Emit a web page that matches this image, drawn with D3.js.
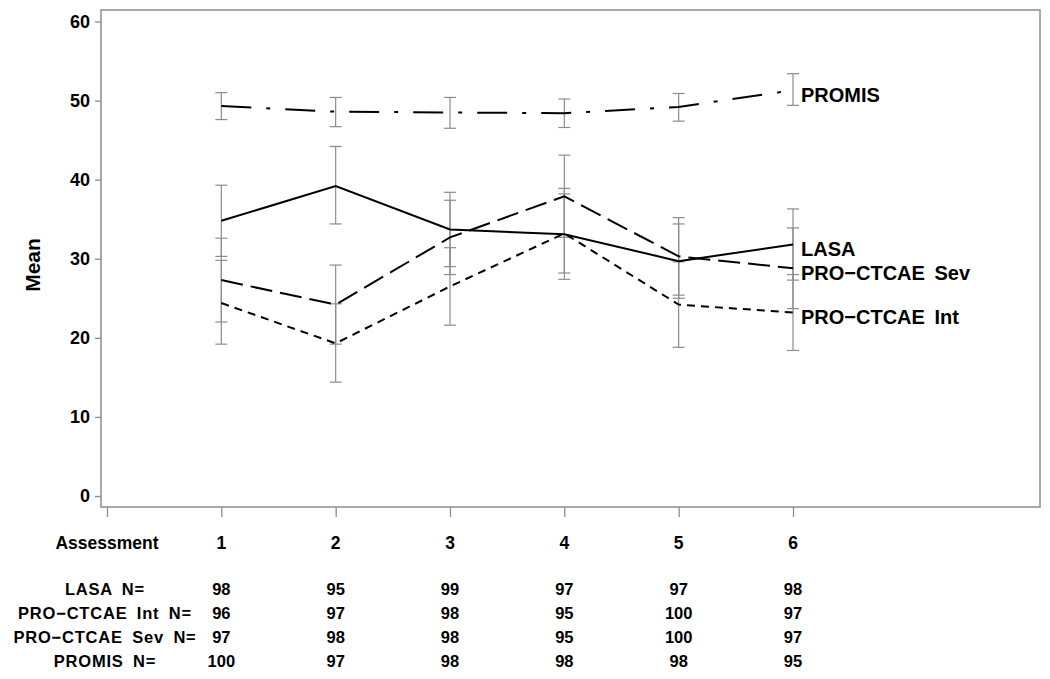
<!DOCTYPE html>
<html><head><meta charset="utf-8">
<script src="https://cdn.jsdelivr.net/npm/d3@7"></script>
<style>
body{margin:0;background:#fff;}
text{font-family:"Liberation Sans",Arial,sans-serif;font-weight:bold;fill:#000;}
</style></head>
<body><svg id="c" width="1050" height="679"></svg>
<script>
const assessments = [1, 2, 3, 4, 5, 6];
const yTicks = [0, 10, 20, 30, 40, 50, 60];

const lasaMean = [34.8, 39.2, 33.7, 33.1, 29.7, 31.8];
const lasaLo   = [30.3, 34.4, 29.0, 27.4, 25.0, 27.3];
const lasaHi   = [39.3, 44.2, 38.4, 38.9, 34.4, 36.3];

const intMean = [24.4, 19.3, 26.5, 33.2, 24.2, 23.2];
const intLo   = [19.2, 14.4, 21.6, 28.2, 18.8, 18.4];
const intHi   = [29.8, 24.3, 31.4, 38.2, 29.6, 28.0];

const sevMean = [27.3, 24.2, 32.7, 37.9, 30.3, 28.8];
const sevLo   = [22.0, 19.2, 28.0, 32.7, 25.4, 23.7];
const sevHi   = [32.6, 29.2, 37.4, 43.1, 35.2, 33.9];

const promisMean = [49.3, 48.6, 48.5, 48.4, 49.2, 51.3];
const promisLo   = [47.6, 46.7, 46.5, 46.6, 47.4, 49.4];
const promisHi   = [51.0, 50.4, 50.4, 50.2, 50.9, 53.4];

const seriesNames = ["LASA", "PRO\u2212CTCAE Sev", "PRO\u2212CTCAE Int", "PROMIS"];
const nRowLabels = ["LASA N=", "PRO\u2212CTCAE Int N=", "PRO\u2212CTCAE Sev N=", "PROMIS N="];
const nLasa   = [98, 95, 99, 97, 97, 98];
const nInt    = [96, 97, 98, 95, 100, 97];
const nSev    = [97, 98, 98, 95, 100, 97];
const nPromis = [100, 97, 98, 98, 98, 95];

const series = [
  {name: seriesNames[0], mean: lasaMean, lo: lasaLo, hi: lasaHi, dash: null},
  {name: seriesNames[2], mean: intMean, lo: intLo, hi: intHi, dash: "8,6"},
  {name: seriesNames[1], mean: sevMean, lo: sevLo, hi: sevHi, dash: "22,8"},
  {name: seriesNames[3], mean: promisMean, lo: promisLo, hi: promisHi, dash: "30,15,4,15"}
];
const nRows = [nLasa, nInt, nSev, nPromis];

const svg = d3.select("#c");
const x = d3.scaleLinear().domain([0, 6]).range([107, 793]);
const y = d3.scaleLinear().domain([0, 60]).range([496, 21.5]);

const frame = {l: 101, t: 10, r: 1040, b: 507};
const grey = "#8c8c8c";

// y axis
const yAx = svg.append("g").attr("transform", `translate(${frame.l},0)`)
  .call(d3.axisLeft(y).tickValues(yTicks).tickSize(6).tickPadding(5));
yAx.select(".domain").remove();
yAx.selectAll(".tick line").attr("stroke", grey).attr("stroke-width", 1.3);
yAx.selectAll(".tick text").style("font-size", "18px").attr("fill", "#000");

// x ticks below frame
const xAx = svg.append("g").attr("transform", `translate(0,${frame.b})`)
  .call(d3.axisBottom(x).tickValues([0].concat(assessments)).tickSize(10).tickFormat(""));
xAx.select(".domain").remove();
xAx.selectAll(".tick line").attr("stroke", grey).attr("stroke-width", 1.3);

// frame
svg.append("rect").attr("x", frame.l).attr("y", frame.t)
  .attr("width", frame.r - frame.l).attr("height", frame.b - frame.t)
  .attr("fill", "none").attr("stroke", grey).attr("stroke-width", 1.5);

// y label
svg.append("text").attr("transform", "translate(34,265) rotate(-90)")
  .attr("text-anchor", "middle").attr("dominant-baseline", "middle")
  .style("font-size", "21px").text("Mean");

// error bars
const capW = 6;
series.forEach(s => {
  const g = svg.append("g");
  assessments.forEach((a, i) => {
    const cx = x(a);
    g.append("line").attr("x1", cx).attr("x2", cx).attr("y1", y(s.lo[i])).attr("y2", y(s.hi[i]))
      .attr("stroke", grey).attr("stroke-width", 1.2);
    [s.lo[i], s.hi[i]].forEach(v => {
      g.append("line").attr("x1", cx - capW).attr("x2", cx + capW).attr("y1", y(v)).attr("y2", y(v))
        .attr("stroke", grey).attr("stroke-width", 1.2);
    });
  });
});

// lines
const line = d3.line().x((d, i) => x(assessments[i])).y(d => y(d));
series.forEach(s => {
  svg.append("path").datum(s.mean).attr("d", line)
    .attr("fill", "none").attr("stroke", "#000").attr("stroke-width", 2)
    .attr("stroke-dasharray", s.dash);
  svg.append("text").attr("x", x(assessments[assessments.length - 1]) + 8)
    .attr("y", y(s.mean[s.mean.length - 1]) + 6)
    .attr("dominant-baseline", "middle").style("font-size", "20px")
    .style("word-spacing", "4px").text(s.name);
});

// axis/table rows
const rowY = [544, 591, 615, 639, 663];
svg.append("text").attr("x", x(0)).attr("y", rowY[0]).attr("text-anchor", "middle")
  .attr("dominant-baseline", "middle").style("font-size", "17.5px").text("Assessment");
assessments.forEach(a => {
  svg.append("text").attr("x", x(a)).attr("y", rowY[0]).attr("text-anchor", "middle")
    .attr("dominant-baseline", "middle").style("font-size", "17.5px").text(a);
});
nRows.forEach((row, r) => {
  svg.append("text").attr("x", x(0) - 2).attr("y", rowY[r + 1]).attr("text-anchor", "middle")
    .attr("dominant-baseline", "middle").style("font-size", "16.5px")
    .style("letter-spacing", "0.8px").style("word-spacing", "4px").text(nRowLabels[r]);
  row.forEach((n, i) => {
    svg.append("text").attr("x", x(assessments[i])).attr("y", rowY[r + 1]).attr("text-anchor", "middle")
      .attr("dominant-baseline", "middle").style("font-size", "16.5px").text(n);
  });
});
</script></body></html>
